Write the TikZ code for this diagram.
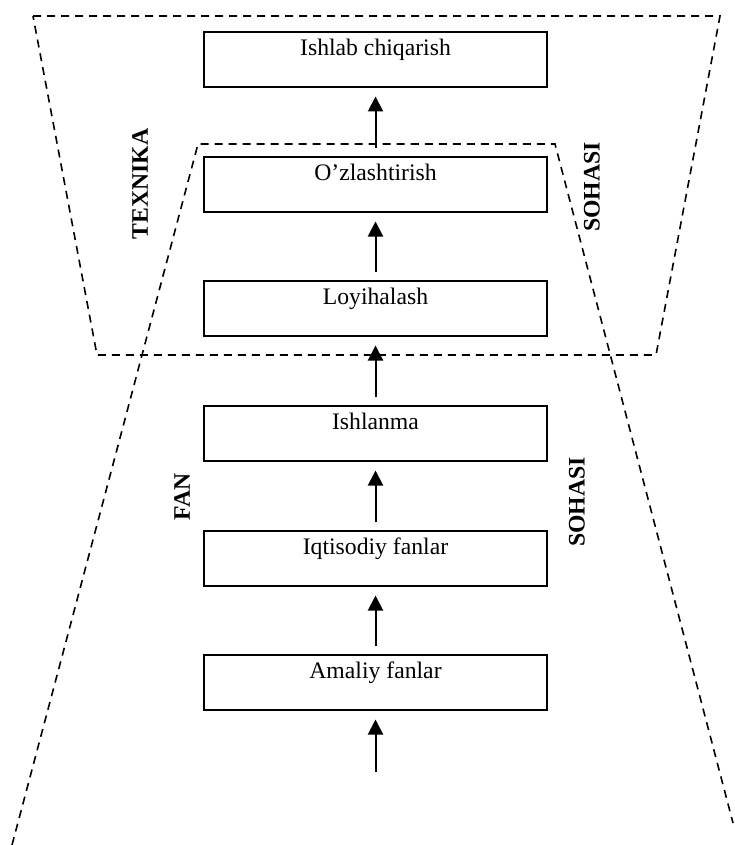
\documentclass[tikz,border=0pt]{standalone}
\usepackage{fontspec}
\setmainfont{Liberation Serif}
\usetikzlibrary{arrows.meta}

\tikzset{
  stagebox/.style={draw, line width=2pt, minimum width=343pt, minimum height=55pt,
    inner sep=0pt, fill=white},
  stagetext/.style={anchor=base, inner sep=0pt,
    font=\fontsize{23.7pt}{28pt}\selectfont},
  sidelabel/.style={rotate=90, inner sep=0pt,
    font=\fontsize{23.7pt}{28pt}\selectfont\bfseries},
  flow/.style={line width=2pt, -{Triangle[length=15pt,width=15pt]},
    shorten <=8pt, shorten >=8.5pt},
  zone/.style={line width=1.6pt, dash pattern=on 8pt off 6pt}
}

\begin{document}
\begin{tikzpicture}[x=1pt, y=-1pt]
  \useasboundingbox (0,0) rectangle (734,845);
  \clip (0,0) rectangle (734,845);

  % engineering zone (upper trapezoid)
  \draw[zone] (33,16) -- (720,16) -- (656,355) -- (97,355) -- cycle;
  % science zone (widening downward)
  \draw[zone] (12,845) -- (198,144) -- (555,144) -- (733,823);

  % stages
  \node[stagebox] (prod) at (375.5,59.5) {};
  \node[stagebox] (osv)  at (375.5,184.5) {};
  \node[stagebox] (proj) at (375.5,308.5) {};
  \node[stagebox] (dev)  at (375.5,433.5) {};
  \node[stagebox] (econ) at (375.5,558.5) {};
  \node[stagebox] (appl) at (375.5,682.5) {};

  \node[stagetext] (prodT) at ([yshift=-24.5pt]prod.north) {Ishlab chiqarish};
  \node[stagetext] (osvT)  at ([yshift=-24.5pt]osv.north)  {O’zlashtirish};
  \node[stagetext] (projT) at ([yshift=-24.5pt]proj.north) {Loyihalash};
  \node[stagetext] (devT)  at ([yshift=-24.5pt]dev.north)  {Ishlanma};
  \node[stagetext] (econT) at ([yshift=-24.5pt]econ.north) {Iqtisodiy fanlar};
  \node[stagetext] (applT) at ([yshift=-24.5pt]appl.north) {Amaliy fanlar};

  % upward flow
  \coordinate (start) at (375.5,780);
  \draw[flow] (start) -- (appl.south);
  \draw[flow] (appl.north) -- (econ.south);
  \draw[flow] (econ.north) -- (dev.south);
  \draw[flow] (dev.north) -- (proj.south);
  \draw[flow] (proj.north) -- (osv.south);
  \draw[flow] (osv.north) -- (prod.south);

  % zone labels
  \node[sidelabel] (tex)  at (140,184) {TEXNIKA};
  \node[sidelabel] (soh1) at (592,187) {SOHASI};
  \node[sidelabel] (fan)  at (182,497) {FAN};
  \node[sidelabel] (soh2) at (577,502) {SOHASI};
\end{tikzpicture}
\end{document}
